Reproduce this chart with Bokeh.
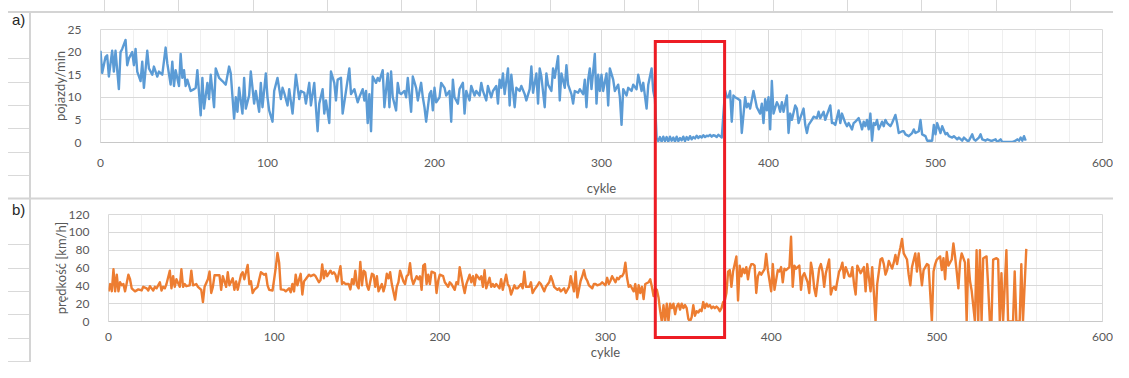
from bokeh.plotting import figure
from bokeh.layouts import column, row
from bokeh.models import Range1d, SingleIntervalTicker, Div, Spacer
from bokeh.embed import file_html
from bokeh.resources import INLINE

# ---------------- data ----------------
cycles_a = [
    0, 1, 3, 4, 5, 7, 8, 9, 11, 12,
    13, 15, 16, 17, 19, 20, 21, 22, 24, 25,
    26, 28, 29, 31, 32, 34, 35, 37, 39, 40,
    42, 43, 44, 45, 47, 48, 49, 50, 51, 52,
    54, 56, 57, 58, 60, 61, 62, 64, 65, 66,
    68, 69, 71, 73, 75, 77, 78, 80, 81, 82,
    83, 85, 86, 87, 89, 90, 92, 93, 95, 96,
    97, 99, 100, 101, 103, 104, 106, 108, 109, 110,
    112, 113, 115, 117, 119, 120, 122, 123, 125, 126,
    128, 129, 130, 131, 133, 134, 135, 137, 138, 140,
    141, 142, 144, 145, 147, 149, 150, 152, 154, 155,
    157, 158, 159, 160, 161, 162, 163, 165, 166, 167,
    169, 170, 172, 173, 174, 175, 177, 178, 179, 180,
    182, 183, 184, 186, 187, 189, 190, 192, 193, 194,
    195, 197, 198, 199, 200, 201, 203, 204, 206, 207,
    209, 210, 211, 212, 214, 215, 217, 218, 219, 221,
    222, 224, 225, 227, 228, 229, 231, 232, 234, 235,
    237, 238, 239, 240, 241, 242, 244, 245, 246, 247,
    248, 249, 251, 252, 254, 255, 257, 258, 259, 261,
    262, 263, 264, 266, 267, 268, 270, 271, 272, 274,
    275, 276, 278, 279, 280, 282, 283, 284, 286, 287,
    289, 290, 291, 292, 293, 294, 296, 297, 298, 299,
    300, 301, 303, 304, 305, 307, 308, 310, 311, 312,
    313, 315, 316, 318, 319, 321, 322, 324, 325, 327,
    328, 330, 331, 332, 333, 334, 335, 336, 337, 338,
    339, 340, 341, 342, 343, 344, 345, 346, 347, 348,
    349, 350, 351, 352, 353, 354, 355, 356, 357, 358,
    359, 360, 361, 362, 363, 364, 365, 366, 367, 368,
    369, 370, 371, 372, 374, 375, 376, 377, 378, 379,
    380, 382, 383, 384, 386, 387, 388, 389, 391, 392,
    393, 395, 396, 397, 398, 399, 400, 401, 402, 403,
    405, 406, 407, 408, 409, 411, 412, 413, 414, 416,
    417, 418, 419, 421, 422, 423, 424, 426, 427, 429,
    430, 431, 433, 434, 435, 437, 438, 439, 440, 442,
    443, 444, 446, 447, 448, 450, 451, 452, 454, 455,
    456, 457, 458, 459, 460, 461, 462, 463, 464, 465,
    466, 468, 469, 470, 471, 473, 474, 476, 477, 478,
    480, 481, 482, 484, 486, 487, 488, 490, 491, 492,
    494, 495, 496, 498, 499, 500, 501, 503, 504, 506,
    507, 508, 510, 511, 513, 514, 516, 517, 519, 520,
    522, 523, 524, 526, 527, 528, 530, 531, 533, 534,
    536, 537, 539, 540, 542, 544, 546, 548, 549, 550,
    551, 552, 553, 554,
]
flow_a = [
    20.3, 15.4, 18.9, 19.3, 14.6, 20.3, 15.7, 20.3, 11.8, 20.0,
    20.7, 22.7, 17.1, 18.6, 20.0, 17.1, 20.7, 15.7, 13.6, 17.9,
    12.1, 20.3, 16.4, 15.0, 16.8, 14.6, 15.7, 15.0, 21.0, 17.5,
    12.8, 17.9, 12.5, 16.0, 12.5, 19.6, 14.3, 16.0, 12.5, 13.9,
    11.4, 11.8, 12.1, 16.0, 6.0, 14.3, 7.5, 13.2, 9.6, 15.0,
    7.8, 16.4, 14.3, 13.6, 12.8, 16.8, 15.3, 5.3, 10.0, 6.8,
    12.1, 6.4, 14.3, 7.5, 10.4, 15.7, 8.6, 11.4, 6.8, 13.2,
    7.8, 15.3, 10.0, 7.1, 4.6, 11.4, 14.3, 9.6, 12.1, 11.0,
    8.2, 11.8, 6.4, 15.0, 9.6, 11.4, 11.0, 8.6, 13.2, 8.2,
    13.2, 7.8, 2.5, 8.6, 11.8, 6.4, 9.3, 4.3, 15.7, 13.2,
    9.3, 13.9, 14.3, 6.4, 11.4, 16.4, 10.7, 11.8, 8.9, 10.0,
    11.8, 9.3, 11.4, 4.3, 10.7, 2.5, 14.6, 13.2, 14.3, 13.6,
    16.0, 7.8, 15.3, 7.8, 15.7, 10.0, 7.1, 13.2, 11.0, 10.7,
    11.4, 10.0, 14.3, 6.8, 14.6, 12.1, 9.3, 13.2, 10.0, 7.8,
    4.6, 10.7, 11.4, 7.1, 12.1, 8.9, 10.0, 13.2, 12.1, 10.4,
    11.4, 4.6, 13.9, 10.0, 8.6, 11.8, 13.2, 6.4, 11.4, 9.3,
    12.5, 10.4, 11.4, 10.4, 13.2, 11.4, 9.3, 12.5, 10.0, 11.4,
    12.5, 8.6, 13.9, 12.1, 15.3, 10.7, 16.4, 8.2, 15.0, 11.4,
    7.8, 12.1, 11.4, 12.5, 10.7, 9.3, 11.8, 16.8, 11.0, 15.3,
    8.6, 16.4, 14.6, 7.8, 15.3, 12.8, 11.4, 16.4, 14.3, 19.1,
    9.3, 15.3, 12.1, 17.1, 12.8, 10.7, 8.6, 11.4, 11.0, 11.8,
    10.7, 13.9, 7.8, 13.9, 16.4, 11.8, 19.6, 8.6, 15.0, 11.4,
    15.0, 11.4, 15.3, 8.2, 16.4, 13.9, 11.4, 12.8, 10.0, 3.9,
    11.8, 10.4, 12.1, 11.4, 12.8, 11.8, 15.0, 11.4, 13.2, 7.5,
    12.8, 16.4, 11.4, 9.6, 1.0, 0.3, 1.2, 0.2, 1.3, 0.3,
    1.2, 0.2, 1.3, 0.4, 1.1, 0.2, 1.3, 0.3, 1.0, 0.5,
    1.3, 0.3, 1.2, 0.6, 1.4, 0.7, 1.2, 0.9, 1.5, 1.0,
    1.4, 1.1, 1.6, 1.2, 1.5, 1.4, 1.7, 1.3, 1.6, 1.5,
    1.2, 1.7, 1.4, 1.1, 11.5, 10.0, 10.0, 11.4, 4.6, 10.4,
    10.0, 9.6, 9.3, 2.1, 10.0, 7.8, 8.6, 7.5, 11.4, 9.6,
    7.8, 6.4, 8.6, 4.3, 9.6, 7.1, 10.0, 2.9, 13.6, 6.4,
    8.9, 8.2, 6.8, 8.9, 6.8, 10.4, 2.1, 6.4, 5.0, 8.2,
    7.5, 4.3, 5.4, 7.5, 3.9, 2.1, 3.9, 5.0, 5.7, 5.4,
    6.8, 5.4, 6.8, 5.0, 6.1, 8.2, 4.3, 4.3, 3.9, 7.1,
    4.3, 6.4, 4.3, 3.6, 4.3, 2.9, 4.3, 4.6, 5.4, 4.3,
    2.9, 4.6, 3.6, 5.0, 2.9, 6.4, 0.4, 4.3, 3.9, 5.0,
    2.9, 4.6, 3.6, 5.0, 4.3, 3.6, 4.3, 6.1, 4.3, 2.1,
    2.5, 2.5, 1.8, 1.4, 2.1, 2.9, 2.1, 2.5, 5.0, 1.8,
    1.4, 0.4, 0.4, 0.4, 3.9, 1.8, 4.3, 2.1, 3.6, 1.8,
    2.1, 1.4, 1.1, 1.4, 0.7, 1.1, 0.4, 1.1, 0.4, 0.4,
    1.8, 0.7, 0.4, 1.1, 1.8, 0.7, 0.4, 0.7, 0.4, 0.4,
    0.7, 0.1, 0.7, 0.1, 0.1, 0.1, 0.1, 0.4, 0.7, 0.4,
    1.1, 0.4, 1.4, 0.4,
]

cycles_b = [
    0, 1, 2, 3, 4, 5, 6, 7, 8, 9,
    10, 12, 13, 14, 16, 18, 20, 21, 23, 24,
    25, 27, 28, 29, 31, 32, 33, 34, 35, 37,
    38, 39, 40, 41, 43, 44, 45, 46, 47, 49,
    50, 51, 53, 54, 56, 57, 58, 60, 61, 62,
    63, 64, 65, 67, 68, 69, 71, 72, 73, 75,
    76, 77, 78, 79, 80, 81, 82, 84, 85, 86,
    87, 88, 90, 91, 92, 94, 95, 96, 97, 99,
    100, 101, 102, 103, 104, 106, 107, 109, 110, 111,
    112, 113, 114, 116, 117, 118, 119, 121, 122, 124,
    125, 127, 128, 129, 130, 131, 132, 134, 135, 136,
    137, 138, 140, 141, 142, 143, 145, 146, 147, 148,
    149, 150, 151, 152, 153, 154, 155, 156, 157, 159,
    160, 161, 162, 163, 165, 166, 167, 168, 169, 170,
    171, 173, 174, 175, 176, 178, 179, 180, 181, 182,
    183, 184, 186, 187, 188, 189, 190, 191, 192, 193,
    194, 195, 197, 198, 199, 200, 202, 203, 205, 206,
    207, 209, 210, 211, 212, 214, 215, 216, 218, 219,
    220, 221, 222, 224, 225, 226, 227, 228, 230, 231,
    232, 233, 234, 236, 237, 238, 240, 241, 242, 243,
    245, 246, 247, 249, 250, 251, 252, 254, 255, 256,
    257, 259, 260, 261, 263, 264, 266, 267, 268, 269,
    271, 272, 273, 275, 276, 278, 279, 280, 281, 282,
    283, 285, 286, 287, 288, 289, 290, 292, 293, 294,
    295, 297, 298, 300, 301, 302, 303, 304, 306, 307,
    308, 309, 310, 311, 312, 313, 314, 315, 317, 318,
    319, 320, 321, 322, 323, 324, 326, 327, 328, 329,
    330, 331, 332, 333, 334, 335, 336, 337, 338, 339,
    340, 341, 342, 343, 344, 345, 346, 347, 348, 349,
    350, 351, 352, 353, 354, 355, 356, 357, 358, 359,
    360, 361, 362, 363, 364, 365, 366, 367, 368, 369,
    370, 371, 372, 373, 374, 375, 376, 377, 379, 380,
    381, 382, 383, 384, 385, 386, 387, 388, 389, 390,
    391, 392, 393, 394, 396, 397, 398, 399, 400, 401,
    402, 404, 405, 406, 407, 408, 409, 411, 412, 413,
    414, 415, 417, 418, 419, 420, 422, 423, 424, 425,
    426, 427, 429, 430, 431, 432, 433, 435, 436, 437,
    438, 439, 441, 442, 443, 444, 445, 447, 448, 449,
    450, 451, 452, 454, 455, 456, 457, 458, 460, 461,
    462, 463, 464, 466, 467, 468, 469, 470, 471, 473,
    474, 475, 476, 477, 478, 479, 480, 482, 483, 484,
    485, 487, 488, 489, 490, 491, 492, 494, 495, 497,
    498, 499, 500, 502, 503, 504, 505, 506, 507, 509,
    510, 511, 512, 513, 514, 515, 517, 518, 519, 520,
    521, 523, 524, 525, 526, 527, 528, 530, 531, 532,
    533, 534, 536, 537, 538, 539, 540, 542, 543, 544,
    546, 547, 548, 550, 551, 552, 554,
]
speed_b = [
    33.8, 42.0, 34.0, 58.6, 33.8, 52.5, 33.8, 44.0, 40.6, 42.0,
    33.8, 52.5, 47.4, 37.2, 33.8, 36.0, 34.8, 38.9, 37.2, 34.8,
    39.6, 34.8, 38.9, 37.2, 44.0, 34.8, 38.9, 37.2, 42.0, 57.0,
    37.2, 50.8, 38.9, 47.4, 38.9, 58.6, 38.9, 42.0, 39.6, 40.6,
    57.0, 40.6, 42.0, 38.9, 35.5, 21.8, 38.9, 47.4, 56.0, 32.0,
    38.9, 51.8, 51.8, 51.8, 35.5, 50.8, 38.9, 55.2, 40.6, 48.4,
    35.5, 45.0, 35.5, 44.0, 52.5, 55.2, 47.4, 63.4, 42.0, 45.0,
    32.0, 35.5, 38.9, 47.4, 55.2, 52.5, 53.5, 40.6, 35.5, 34.8,
    47.4, 61.0, 77.0, 66.0, 36.0, 35.5, 33.8, 37.2, 32.7, 42.0,
    33.8, 52.5, 40.6, 53.5, 30.3, 45.0, 47.4, 52.5, 50.8, 52.5,
    50.8, 44.0, 46.4, 64.0, 48.4, 57.0, 50.8, 57.0, 53.5, 55.2,
    52.5, 45.0, 62.0, 42.0, 44.0, 42.0, 42.0, 36.0, 47.4, 42.0,
    57.0, 40.6, 37.2, 66.8, 40.6, 57.0, 55.2, 40.6, 35.5, 53.5,
    52.5, 38.9, 50.8, 33.8, 42.0, 33.8, 40.6, 53.5, 48.4, 55.2,
    42.0, 24.5, 38.9, 44.0, 57.0, 45.0, 42.0, 50.8, 52.5, 65.5,
    48.4, 42.0, 50.8, 47.4, 50.8, 35.5, 62.7, 64.4, 42.0, 52.5,
    42.0, 55.9, 54.2, 32.0, 45.7, 52.5, 50.8, 44.0, 38.9, 44.0,
    42.0, 35.5, 44.0, 42.0, 61.0, 40.6, 32.0, 42.0, 52.5, 44.0,
    50.8, 40.6, 52.5, 47.4, 50.8, 38.9, 57.6, 37.2, 49.0, 38.9,
    42.0, 38.9, 42.0, 37.2, 47.4, 35.5, 52.5, 42.0, 38.9, 30.3,
    40.6, 37.2, 37.2, 42.0, 37.2, 55.9, 38.9, 38.9, 44.0, 32.0,
    35.5, 40.6, 44.0, 42.0, 33.8, 38.9, 44.0, 50.8, 45.7, 38.9,
    35.5, 37.2, 33.8, 37.2, 32.0, 38.9, 50.8, 42.0, 33.8, 55.9,
    27.0, 45.7, 50.8, 57.6, 49.0, 45.7, 40.6, 37.2, 42.0, 42.0,
    40.6, 42.0, 44.0, 40.6, 49.0, 42.0, 45.7, 50.8, 44.0, 49.0,
    47.4, 50.8, 50.8, 54.2, 66.0, 49.0, 38.9, 40.6, 33.8, 42.0,
    25.2, 40.6, 32.0, 38.9, 25.2, 42.0, 44.0, 47.4, 38.9, 28.6,
    37.2, 35.5, 27.0, 11.6, 0.0, 18.4, 0.0, 20.0, 0.0, 20.0,
    15.0, 20.0, 8.2, 16.7, 20.0, 13.3, 20.0, 15.0, 18.4, 15.0,
    3.0, 0.0, 4.8, 18.4, 6.5, 11.6, 10.0, 13.3, 11.6, 21.8,
    15.0, 20.0, 16.7, 18.4, 15.0, 16.7, 15.0, 16.7, 15.0, 11.6,
    15.0, 21.8, 23.5, 32.0, 56.0, 57.6, 38.9, 56.0, 73.0, 23.5,
    62.7, 50.8, 59.3, 54.2, 61.0, 47.4, 59.3, 64.4, 64.4, 62.7,
    32.0, 50.8, 55.2, 52.5, 58.6, 75.7, 57.6, 45.7, 33.8, 64.4,
    35.5, 57.6, 56.0, 61.0, 44.0, 59.3, 57.6, 61.0, 95.0, 38.9,
    62.7, 59.3, 62.7, 35.5, 50.8, 54.2, 44.0, 32.0, 66.0, 56.0,
    37.2, 28.6, 59.3, 64.4, 56.0, 38.9, 54.2, 69.5, 30.3, 37.2,
    38.9, 35.5, 56.0, 59.3, 66.0, 49.0, 61.0, 50.8, 50.8, 61.0,
    42.0, 30.3, 62.7, 54.2, 57.6, 61.0, 33.8, 64.4, 33.8, 61.0,
    32.0, 0.0, 42.0, 69.5, 71.0, 64.4, 52.5, 57.6, 67.8, 59.3,
    66.0, 74.7, 64.4, 74.7, 83.0, 92.7, 76.4, 69.5, 52.5, 40.6,
    61.0, 76.4, 56.0, 76.4, 57.6, 40.6, 57.6, 64.4, 63.4, 0.0,
    56.0, 64.4, 69.5, 73.0, 57.6, 71.0, 47.4, 78.0, 62.7, 69.5,
    87.6, 73.0, 56.0, 37.2, 66.0, 76.4, 66.0, 0.0, 69.5, 45.7,
    34.8, 0.0, 80.0, 0.0, 80.0, 0.0, 71.0, 73.0, 38.9, 0.0,
    0.0, 69.5, 71.0, 69.5, 0.0, 54.2, 0.0, 80.0, 0.0, 0.0,
    0.0, 56.0, 0.0, 0.0, 64.4, 0.0, 81.5,
]

labels = {"a": "a)", "b": "b)", "ya": "pojazdy/min", "yb": "prędkość [km/h]", "x": "cykle"}
highlight = (332.5, 374.0)   # cycles framed by the red box

# ---------------- geometry / styling ----------------
W, H = 1113, 362
HA = 198                     # height of panel a, panel b gets the rest
A_LEFT, B_SHIFT, B_LEFT, RIGHT_EDGE = 100, 8, 100, 1102
A_TOP, A_BOTTOM = 29, 146
B_TOP, B_BOTTOM = 214, 326
FONT = "Lato"
TXT = "#595959"
GRID = "#d9d9d9"
MINOR = "#efefef"
SHEET = "#d4d4d4"
BLUE = "#5b9bd5"
ORANGE = "#ed7d31"
RED = "#ed1c24"


def make_fig(w, h, left, right, top, bottom, ymax, ystep, ylabel, xlabel, xl_standoff, xa_standoff):
    p = figure(width=w, height=h, output_backend="svg", toolbar_location=None,
               x_range=Range1d(0, 600), y_range=Range1d(0, ymax),
               min_border_left=left, min_border_right=right,
               min_border_top=top, min_border_bottom=bottom)
    p.background_fill_color = "white"
    p.border_fill_color = "white"
    p.outline_line_color = GRID
    p.xaxis.ticker = SingleIntervalTicker(interval=100, num_minor_ticks=5)
    p.yaxis.ticker = SingleIntervalTicker(interval=ystep)
    p.xgrid.grid_line_color = GRID
    p.xgrid.minor_grid_line_color = MINOR
    p.ygrid.grid_line_color = GRID
    p.axis.major_tick_line_color = None
    p.axis.minor_tick_line_color = None
    p.yaxis.axis_line_color = None
    p.xaxis.axis_line_color = "#c8c8c8"
    p.axis.major_label_text_font = FONT
    p.axis.major_label_text_font_size = "12px"
    p.axis.major_label_text_color = TXT
    p.axis.axis_label_text_font = FONT
    p.axis.axis_label_text_font_size = "13px"
    p.axis.axis_label_text_color = TXT
    p.axis.axis_label_text_font_style = "normal"
    p.xaxis.axis_label = xlabel
    p.yaxis.axis_label = ylabel
    p.xaxis.major_label_standoff = xl_standoff
    p.xaxis.axis_label_standoff = xa_standoff
    p.yaxis.major_label_standoff = 13
    p.yaxis.axis_label_standoff = -3
    return p


# ---- panel a ----
pa = make_fig(W, HA, A_LEFT, W - RIGHT_EDGE, A_TOP, HA - A_BOTTOM, 25, 5,
              labels["ya"], labels["x"], 10, 10)
pa.line(cycles_a, flow_a, line_color=BLUE, line_width=2.4, line_join="round")

# ---- panel b (shifted 8 px right by a spacer, like the reference) ----
HB = H - HA
pb = make_fig(W - B_SHIFT, HB, B_LEFT, W - RIGHT_EDGE, B_TOP - HA, H - B_BOTTOM, 120, 20,
              labels["yb"], labels["x"], 5, 0)
pb.line(cycles_b, speed_b, line_color=ORANGE, line_width=2.4, line_join="round")
row_b = row(Spacer(width=B_SHIFT, height=HB), pb, spacing=0)

# ---- spreadsheet decorations + red highlight, as an overlay on top of both panels ----
def sx_a(c):
    return A_LEFT + c * (RIGHT_EDGE - A_LEFT) / 600.0


rx0, rx1 = sx_a(highlight[0]), sx_a(highlight[1])
parts = []
parts.append(f'<line x1="30" y1="12" x2="30" y2="{H}" stroke="{SHEET}" stroke-width="2"/>')
parts.append(f'<line x1="8" y1="12" x2="{W}" y2="12" stroke="{SHEET}" stroke-width="2"/>')
parts.append(f'<line x1="8" y1="198.5" x2="{W}" y2="198.5" stroke="{SHEET}" stroke-width="2"/>')
for ry in [58, 82, 105, 128, 152, 175, 244, 268, 291, 314, 338, 361]:
    parts.append(f'<line x1="8" y1="{ry}.5" x2="29" y2="{ry}.5" stroke="{GRID}" stroke-width="1"/>')
for k in range(15):
    cx = round(104 + 74.3 * k) + 0.5
    if cx < W:
        parts.append(f'<line x1="{cx}" y1="0" x2="{cx}" y2="11" stroke="{GRID}" stroke-width="1"/>')
parts.append(f'<text x="12" y="25" font-family="{FONT}" font-size="15" fill="#262626">{labels["a"]}</text>')
parts.append(f'<text x="12" y="215" font-family="{FONT}" font-size="15" fill="#262626">{labels["b"]}</text>')
parts.append(f'<rect x="{rx0:.1f}" y="41.5" width="{rx1 - rx0:.1f}" height="296" '
             f'fill="none" stroke="{RED}" stroke-width="3"/>')
svg = (f'<svg xmlns="http://www.w3.org/2000/svg" width="{W}" height="{H}" '
       f'style="position:absolute;left:0;top:0;overflow:visible">' + "".join(parts) + "</svg>")

overlay = Div(text=svg, width=W, height=H, margin=(-H, 0, 0, 0),
              styles={"position": "relative", "z-index": "10", "pointer-events": "none"})

layout = column(pa, row_b, overlay, spacing=0)
open("out.html", "w").write(file_html(layout, INLINE))
